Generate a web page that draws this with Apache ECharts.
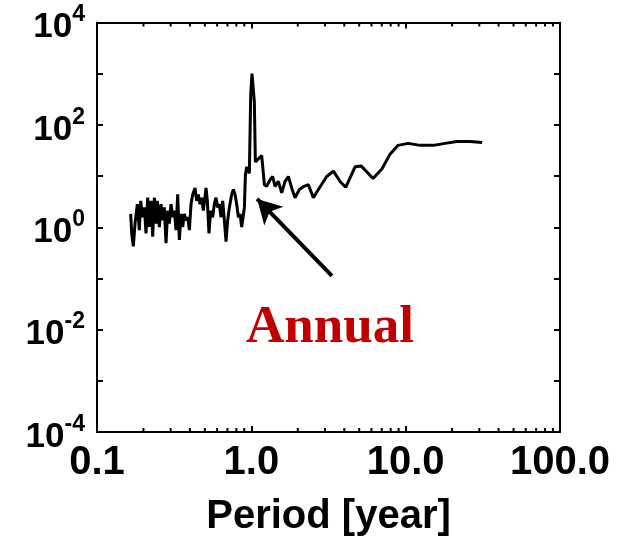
<!DOCTYPE html>
<html><head><meta charset="utf-8">
<script src="https://cdn.jsdelivr.net/npm/echarts@6/dist/echarts.min.js"></script>
<style>html,body{margin:0;padding:0;background:#fff}#c{width:621px;height:542px}</style>
</head><body><div id="c"></div>
<script>
const periods = [0.1653,0.1678,0.1720,0.1763,0.1825,0.1880,0.1919,0.1977,0.2027,0.2078,
0.2130,0.2184,0.2239,0.2295,0.2353,0.2412,0.2460,0.2535,0.2599,0.2664,
0.2731,0.2800,0.2871,0.2943,0.3017,0.3093,0.3171,0.3251,0.3333,0.3417,
0.3503,0.3591,0.3681,0.3774,0.3869,0.3967,0.4067,0.4169,0.4317,0.4426,
0.4537,0.4651,0.4768,0.4888,0.5087,0.5188,0.5316,0.5450,0.5616,0.5758,
0.5903,0.6053,0.6205,0.6362,0.6522,0.6687,0.6855,0.7028,0.7205,0.7460,
0.7648,0.7842,0.8039,0.8242,0.8450,0.8663,0.8882,0.9016,0.9152,0.9331,
0.9565,0.9710,0.9906,1.010,1.031,1.046,1.062,1.083,1.167,1.215,
1.258,1.322,1.375,1.424,1.497,1.573,1.653,1.738,1.826,1.920,
2.048,2.195,2.342,2.523,2.719,3.079,3.401,3.757,4.088,4.70,
5.14,6.15,7.03,7.92,8.93,10.37,12.4,15.1,18.0,21.5,
26.1,31.3];
const power = [1.82,0.757,0.422,1.175,2.82,0.877,3.27,1.57,2.44,0.757,
3.78,1.01,3.27,0.655,3.78,1.175,3.27,1.01,2.82,1.36,
2.44,0.489,2.11,1.175,2.82,1.57,2.11,0.877,4.38,0.565,
1.82,1.01,1.82,1.36,1.57,0.877,2.82,4.38,5.86,3.27,
4.38,2.82,3.78,2.11,5.86,3.27,0.757,2.11,1.57,2.82,
3.78,2.44,2.82,1.57,3.27,1.36,0.526,1.36,2.44,4.38,
5.45,4.38,2.82,1.57,1.82,1.01,0.944,2.44,10.5,15.2,
16.3,11.3,380,1000,950,280,18.9,20,25.3,6.79,
6.31,8.45,9.79,6.31,7.85,4.71,7.85,9.79,5.86,3.78,
5.45,6.31,6.79,3.78,5.45,9.79,12.5,7.85,6.04,15.2,
15.8,8.95,13.9,26.8,39.8,43.5,39.8,39.8,43.5,47.4,
47.4,45.4];
const xTickLabels = ['0.1','1.0','10.0','100.0'];
const xMinorTicks = [0.2,0.3,0.4,0.5,0.6,0.7,0.8,0.9,2,3,4,5,6,7,8,9,20,30,40,50,60,70,80,90];
const arrowTail = [3.33, 0.112];
const arrowHead = [1.09, 3.57];
const annotationText = 'Annual';
const xName = 'Period [year]';

const SANS = '"Liberation Sans", Arial, sans-serif';
const SERIF = '"Liberation Serif", "Times New Roman", serif';
const chart = echarts.init(document.getElementById('c'), null, {renderer: 'canvas'});
const seriesData = periods.map((p, i) => [p, power[i]]);

const axisLine = {show: true, onZero: false, lineStyle: {color: '#000', width: 2}};
const axisTick = {show: true, inside: true, length: 6, lineStyle: {color: '#000', width: 2}};

const option = {
  animation: false,
  backgroundColor: '#fff',
  grid: {left: 97, right: 61, top: 17, bottom: 105, containLabel: false},
  xAxis: [{
    type: 'log', logBase: 10, min: 0.1, max: 100, splitNumber: 3, position: 'bottom',
    axisLine: axisLine, axisTick: axisTick, splitLine: {show: false}, minorTick: {show: false},
    axisLabel: {
      margin: 11, color: '#000', fontSize: 40, fontWeight: 'bold', fontFamily: SANS,
      formatter: v => xTickLabels[Math.round(Math.log10(v)) + 1]
    },
    name: xName, nameLocation: 'middle', nameGap: 65,
    nameTextStyle: {color: '#000', fontSize: 40, fontWeight: 'bold', fontFamily: SANS}
  }, {
    type: 'log', logBase: 10, min: 0.1, max: 100, splitNumber: 3, position: 'top',
    axisLine: axisLine, axisTick: axisTick, splitLine: {show: false},
    axisLabel: {show: false}
  }],
  yAxis: [{
    type: 'log', logBase: 10, min: 1e-4, max: 1e4, splitNumber: 8, position: 'left',
    axisLine: axisLine, axisTick: axisTick, splitLine: {show: false},
    axisLabel: {
      margin: 12, color: '#000',
      formatter: v => { const e = Math.round(Math.log10(v)); return e % 2 === 0 ? '{b|10}{s|' + e + '}' : ''; },
      rich: {
        b: {fontSize: 35, fontWeight: 'bold', fontFamily: SANS, color: '#000', lineHeight: 38, padding: [10, 0, 0, 0]},
        s: {fontSize: 23, fontWeight: 'bold', fontFamily: SANS, color: '#000', lineHeight: 23, verticalAlign: 'top'}
      }
    }
  }, {
    type: 'log', logBase: 10, min: 1e-4, max: 1e4, splitNumber: 8, position: 'right',
    axisLine: axisLine, axisTick: axisTick, splitLine: {show: false},
    axisLabel: {show: false}
  }],
  series: [{
    type: 'line', data: seriesData, showSymbol: false, symbol: 'none',
    lineStyle: {color: '#000', width: 3}, silent: true,
    markLine: {
      silent: true, symbol: ['none', 'arrow'], symbolSize: [20, 24],
      label: {show: false}, emphasis: {disabled: true},
      lineStyle: {color: '#000', width: 4, type: 'solid'},
      data: [[{coord: arrowTail}, {coord: arrowHead}]]
    }
  }, {
    type: 'custom', silent: true, clip: false,
    data: xMinorTicks.map(v => [v, 1]),
    encode: {x: 0, y: 1},
    renderItem: (params, api) => {
      const v = api.value(0);
      const b = api.coord([v, 1e-4]);
      const t = api.coord([v, 1e4]);
      return {type: 'group', children: [
        {type: 'line', shape: {x1: b[0], y1: b[1], x2: b[0], y2: b[1] - 4}, style: {stroke: '#000', lineWidth: 2}},
        {type: 'line', shape: {x1: t[0], y1: t[1], x2: t[0], y2: t[1] + 4}, style: {stroke: '#000', lineWidth: 2}}
      ]};
    }
  }],
  graphic: [{
    type: 'text', x: 330, y: 328, silent: true,
    style: {text: annotationText, fill: '#c00000', fontSize: 53, fontWeight: 'bold', fontFamily: SERIF, align: 'center', verticalAlign: 'middle'}
  }]
};
chart.setOption(option);
</script></body></html>
